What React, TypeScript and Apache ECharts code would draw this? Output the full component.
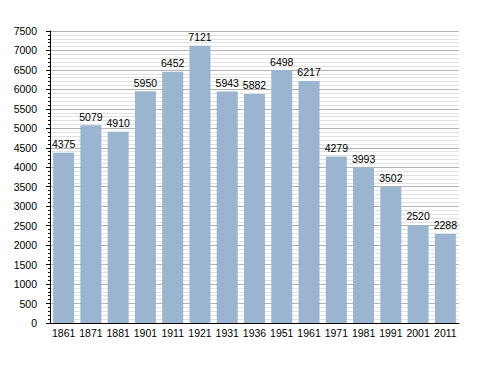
import React, { useEffect, useRef } from "react";
import * as echarts from "echarts";

const categories = ["1861", "1871", "1881", "1901", "1911", "1921", "1931", "1936", "1951", "1961", "1971", "1981", "1991", "2001", "2011"];
const populations = [4375, 5079, 4910, 5950, 6452, 7121, 5943, 5882, 6498, 6217, 4279, 3993, 3502, 2520, 2288];

export default function App() {
  const ref = useRef<HTMLDivElement>(null);
  useEffect(() => {
    if (!ref.current) return;
    const chart = echarts.init(ref.current, null, { renderer: "svg" });
    chart.setOption({
      animation: false,
      backgroundColor: "#ffffff",
      textStyle: { fontFamily: "Liberation Sans, Arial, sans-serif" },
      grid: { left: 50, top: 31, width: 409, height: 292, containLabel: false },
      xAxis: {
        type: "category",
        data: categories,
        axisLine: { lineStyle: { color: "#000", width: 1 } },
        axisTick: { show: false },
        axisLabel: { color: "#000", fontSize: 10.5, margin: 4, interval: 0 },
        splitLine: { show: false },
      },
      yAxis: {
        type: "value",
        min: 0,
        max: 7500,
        interval: 500,
        axisLine: { show: true, lineStyle: { color: "#000", width: 1 } },
        axisTick: { show: true, length: 4, lineStyle: { color: "#000" } },
        minorTick: { show: true, splitNumber: 5, length: 2, lineStyle: { color: "#000" } },
        axisLabel: { color: "#000", fontSize: 10.5, margin: 13, formatter: (v: number) => String(v) },
        splitLine: { show: true, lineStyle: { color: "#b4b4b4", width: 1 } },
        minorSplitLine: { show: true, lineStyle: { color: "#e2e2e2", width: 1 } },
      },
      series: [
        {
          type: "bar",
          data: populations,
          barWidth: 21,
          itemStyle: { color: "#9bb4cf" },
          label: { show: true, position: "top", distance: 3, color: "#000", fontSize: 10.5 },
        },
      ],
    });
    return () => chart.dispose();
  }, []);
  return <div ref={ref} style={{ position: "fixed", left: 0, top: 0, width: 488, height: 373 }} />;
}
